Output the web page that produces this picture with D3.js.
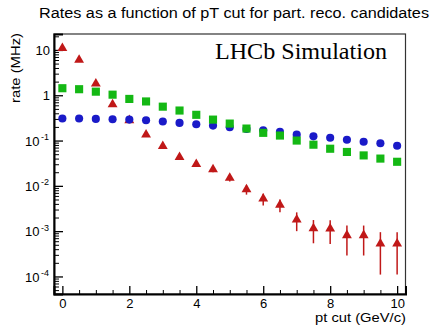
<!DOCTYPE html>
<html>
<head>
<meta charset="utf-8">
<script src="https://cdn.jsdelivr.net/npm/d3@7"></script>
<style>
    body { margin: 0; background: #fff; }
    svg text { font-family: "Liberation Sans", Arial, sans-serif; }
</style>
</head>
<body>
<div id="chart"></div>
<script>
// pt cut values (GeV/c)
var PT_CUTS = [0, 0.5, 1, 1.5, 2, 2.5, 3, 3.5, 4, 4.5, 5, 5.5, 6, 6.5, 7, 7.5, 8, 8.5, 9, 9.5, 10];

// rates in MHz
var RATE_RED = [11, 6.0, 1.8, 0.63, 0.28, 0.135, 0.075, 0.043, 0.030, 0.023, 0.015, 0.0083, 0.0052, 0.0038, 0.0018, 0.00115, 0.00113, 0.00081, 0.00081, 0.00053, 0.00053];
var ERR_RED = [0.07, 0.05, 0.03, 0.016, 0.011, 0.0076, 0.0057, 0.0043, 0.0036, 0.0031, 0.0025, 0.0019, 0.0015, 0.0012, 0.0008, 0.00061, 0.00061, 0.00052, 0.00052, 0.00042, 0.00042];
var RATE_GREEN = [1.43, 1.36, 1.2, 1.03, 0.83, 0.73, 0.56, 0.46, 0.37, 0.29, 0.237, 0.184, 0.148, 0.129, 0.1, 0.081, 0.066, 0.056, 0.047, 0.040, 0.034];
var RATE_BLUE = [0.306, 0.306, 0.30, 0.295, 0.29, 0.28, 0.263, 0.245, 0.229, 0.214, 0.197, 0.18, 0.169, 0.155, 0.135, 0.124, 0.115, 0.104, 0.094, 0.087, 0.077];

var Y_MAJOR = [1e-4, 1e-3, 1e-2, 1e-1, 1, 10];
var Y_LABELS = [["10", "-4"], ["10", "-3"], ["10", "-2"], ["10", "-1"], ["1", ""], ["10", ""]];
var X_MAJOR = [0, 2, 4, 6, 8, 10];

var WIDTH = 433, HEIGHT = 327,
    LEFT = 54, RIGHT = 405.5, TOP = 34, BOTTOM = 294;

var svg = d3.select("#chart").append("svg")
    .attr("width", WIDTH)
    .attr("height", HEIGHT);

var x = d3.scaleLinear().domain([-0.25, 10.25]).range([LEFT, RIGHT]);
var y = d3.scaleLog().domain([4.1e-5, 22.5]).range([BOTTOM, TOP]);

// frame (thin top/right)
svg.append("rect")
    .attr("x", LEFT).attr("y", TOP)
    .attr("width", RIGHT - LEFT).attr("height", BOTTOM - TOP)
    .attr("fill", "none").attr("stroke", "#333").attr("stroke-width", 1.2);

// y axis: minor ticks then major ticks
var y_minor = y.ticks().filter(function(v){ return Y_MAJOR.indexOf(v) === -1; });
svg.append("g").attr("transform", "translate(" + LEFT + ",0)")
    .call(d3.axisLeft(y).tickValues(y_minor).tickSize(-5).tickFormat(""))
    .call(function(g){ g.select(".domain").remove(); });

var y_axis = svg.append("g").attr("transform", "translate(" + LEFT + ",0)")
    .call(d3.axisLeft(y).tickValues(Y_MAJOR).tickSize(-9).tickPadding(4).tickFormat(""));
y_axis.select(".domain").attr("stroke-width", 2);
y_axis.selectAll(".tick line").attr("stroke-width", 1.3);
y_axis.selectAll(".tick").each(function(d, i){
    var lab = Y_LABELS[i];
    var t = d3.select(this).append("text")
        .attr("x", lab[1] ? -14.5 : -4).attr("dy", "0.36em")
        .attr("fill", "#000").attr("text-anchor", "end")
        .style("font-size", "13px")
        .text(lab[0]);
    if (lab[1]) {
        d3.select(this).append("text")
            .attr("x", -5).attr("dy", "-0.12em")
            .attr("fill", "#000").attr("text-anchor", "end")
            .style("font-size", "9px")
            .text(lab[1]);
    }
});

// x axis
var x_minor = d3.range(0, 10.01, 0.5).filter(function(v){ return X_MAJOR.indexOf(v) === -1; });
svg.append("g").attr("transform", "translate(0," + BOTTOM + ")")
    .call(d3.axisBottom(x).tickValues(x_minor).tickSize(-4).tickFormat(""))
    .call(function(g){ g.select(".domain").remove(); });

var x_axis = svg.append("g").attr("transform", "translate(0," + BOTTOM + ")")
    .call(d3.axisBottom(x).tickValues(X_MAJOR).tickSize(-8).tickPadding(4).tickFormat(d3.format("d")));
x_axis.select(".domain").attr("stroke-width", 2);
x_axis.selectAll(".tick line").attr("stroke-width", 1.3);
x_axis.selectAll(".tick text")
    .attr("y", 14).attr("dy", null)
    .style("font-size", "13px").attr("fill", "#000");

// error bars on red series
svg.append("g").selectAll("line")
    .data(PT_CUTS).enter().append("line")
    .attr("x1", function(d){ return x(d); })
    .attr("x2", function(d){ return x(d); })
    .attr("y1", function(d, i){ return y(RATE_RED[i] + ERR_RED[i]); })
    .attr("y2", function(d, i){ return y(Math.max(RATE_RED[i] - ERR_RED[i], 4.2e-5)); })
    .attr("stroke", "#c01818").attr("stroke-width", 1.5);

function draw_series(values, type, size, color){
    svg.append("g").selectAll("path")
        .data(PT_CUTS).enter().append("path")
        .attr("transform", function(d, i){ return "translate(" + x(d) + "," + y(values[i]) + ")"; })
        .attr("d", d3.symbol().type(type).size(size))
        .attr("fill", color);
}

draw_series(RATE_RED, d3.symbolTriangle, 42, "#c01818");
draw_series(RATE_BLUE, d3.symbolCircle, 52, "#1a1ac8");
draw_series(RATE_GREEN, d3.symbolSquare, 66, "#14b814");

// texts
svg.append("text")
    .attr("x", 39).attr("y", 18)
    .attr("textLength", 390).attr("lengthAdjust", "spacingAndGlyphs")
    .style("font-size", "14px")
    .text("Rates as a function of pT cut for part. reco. candidates");

svg.append("text")
    .attr("x", 215).attr("y", 59)
    .attr("textLength", 172).attr("lengthAdjust", "spacingAndGlyphs")
    .style("font-family", "'Liberation Serif', 'Times New Roman', serif")
    .style("font-size", "23px")
    .text("LHCb Simulation");

svg.append("text")
    .attr("transform", "translate(20," + 33 + ")rotate(-90)")
    .attr("text-anchor", "end")
    .attr("textLength", 70).attr("lengthAdjust", "spacingAndGlyphs")
    .style("font-size", "13.5px")
    .text("rate (MHz)");

svg.append("text")
    .attr("x", 315).attr("y", 322)
    .attr("textLength", 91).attr("lengthAdjust", "spacingAndGlyphs")
    .style("font-size", "13.5px")
    .text("pt cut (GeV/c)");
</script>
</body>
</html>
